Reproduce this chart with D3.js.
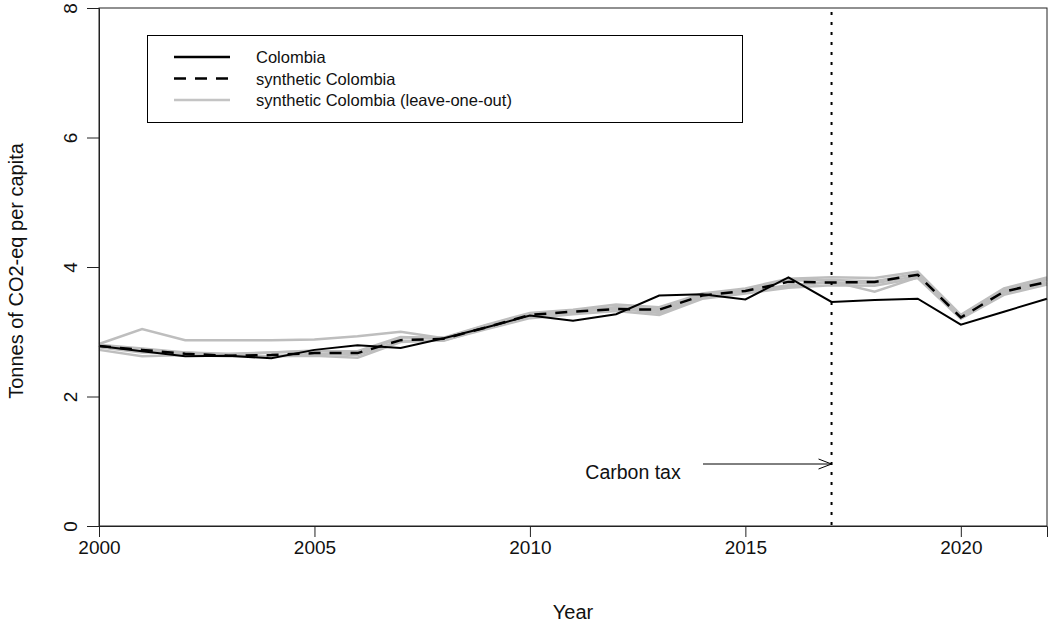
<!DOCTYPE html>
<html>
<head>
<meta charset="utf-8">
<script src="https://cdn.jsdelivr.net/npm/d3@7"></script>
<style>
  body { margin: 0; background: #fff; }
  text { font-family: "Liberation Sans", Arial, sans-serif; fill: #111; }
</style>
</head>
<body>
<svg id="chart" width="1049" height="626"></svg>
<script>
const years = d3.range(2000, 2023);

const colombia = [2.78, 2.70, 2.62, 2.63, 2.59, 2.72, 2.79, 2.75, 2.90, 3.07, 3.25, 3.17, 3.27, 3.56, 3.58, 3.50, 3.84, 3.46, 3.49, 3.51, 3.11, 3.31, 3.51];
const synthetic = [2.78, 2.72, 2.66, 2.63, 2.64, 2.67, 2.67, 2.87, 2.89, 3.07, 3.26, 3.31, 3.35, 3.34, 3.56, 3.63, 3.77, 3.76, 3.77, 3.88, 3.22, 3.62, 3.77];

// leave-one-out donors
const loo1 = [2.81, 3.04, 2.87, 2.87, 2.87, 2.88, 2.93, 3.00, 2.90, 3.10, 3.26, 3.30, 3.38, 3.35, 3.55, 3.64, 3.70, 3.78, 3.62, 3.84, 3.22, 3.62, 3.80];
const loo2 = [2.78, 2.70, 2.67, 2.65, 2.68, 2.71, 2.66, 2.91, 2.91, 3.11, 3.29, 3.34, 3.42, 3.38, 3.59, 3.67, 3.82, 3.84, 3.83, 3.93, 3.26, 3.67, 3.84];
const loo3 = [2.72, 2.62, 2.64, 2.62, 2.62, 2.63, 2.60, 2.84, 2.87, 3.04, 3.21, 3.27, 3.32, 3.26, 3.51, 3.59, 3.68, 3.72, 3.71, 3.83, 3.20, 3.57, 3.73];
const loo4 = [2.76, 2.68, 2.68, 2.66, 2.68, 2.70, 2.70, 2.92, 2.90, 3.08, 3.27, 3.33, 3.38, 3.32, 3.57, 3.65, 3.79, 3.80, 3.78, 3.90, 3.24, 3.64, 3.81];
const loo5 = [2.80, 2.74, 2.68, 2.64, 2.62, 2.66, 2.64, 2.86, 2.86, 3.06, 3.24, 3.30, 3.36, 3.29, 3.54, 3.62, 3.72, 3.76, 3.75, 3.86, 3.21, 3.60, 3.76];
const leaveOneOut = [loo1, loo2, loo3, loo4, loo5];

const xTicks = [2000, 2005, 2010, 2015, 2020];
const yTicks = [0, 2, 4, 6, 8];
const treatYear = 2017;

const legendLabels = ["Colombia", "synthetic Colombia", "synthetic Colombia (leave-one-out)"];

const svg = d3.select("#chart");
const margin = { left: 99, right: 2, top: 8, bottom: 100 };
const width = +svg.attr("width"), height = +svg.attr("height");

const x = d3.scaleLinear().domain([2000, 2022]).range([margin.left, width - margin.right]);
const y = d3.scaleLinear().domain([0, 8]).range([height - margin.bottom, margin.top]);

const line = d3.line().x((d, i) => x(years[i])).y(d => y(d));

// grey leave-one-out lines
svg.append("g")
  .selectAll("path")
  .data(leaveOneOut)
  .join("path")
  .attr("d", line)
  .attr("fill", "none")
  .attr("stroke", "#bebebe")
  .attr("stroke-width", 2.5);

svg.append("path")
  .attr("d", line(colombia))
  .attr("fill", "none")
  .attr("stroke", "#000")
  .attr("stroke-width", 2);

svg.append("path")
  .attr("d", line(synthetic))
  .attr("fill", "none")
  .attr("stroke", "#000")
  .attr("stroke-width", 2.5)
  .attr("stroke-dasharray", "12,9");

// treatment line
svg.append("line")
  .attr("x1", x(treatYear)).attr("x2", x(treatYear))
  .attr("y1", y(8)).attr("y2", y(0))
  .attr("stroke", "#000")
  .attr("stroke-width", 2)
  .attr("stroke-dasharray", "3,7")
  .attr("stroke-dashoffset", -4);

// box
svg.append("rect")
  .attr("x", x(2000)).attr("y", y(8))
  .attr("width", x(2022) - x(2000)).attr("height", y(0) - y(8))
  .attr("fill", "none")
  .attr("stroke", "#222")
  .attr("stroke-width", 1);

// axes
const xAxis = svg.append("g")
  .attr("transform", `translate(0,${y(0)})`)
  .call(d3.axisBottom(x).tickValues(xTicks).tickFormat(d3.format("d")).tickSize(11).tickPadding(4));
xAxis.select(".domain").attr("stroke", "#222");
xAxis.selectAll("line").attr("stroke", "#222");
xAxis.selectAll("text").style("font-size", "19px").attr("fill", "#111");

const yAxis = svg.append("g")
  .attr("transform", `translate(${x(2000)},0)`)
  .call(d3.axisLeft(y).tickValues(yTicks).tickSize(12).tickPadding(0).tickFormat(d3.format("d")));
yAxis.select(".domain").attr("stroke", "#222");
yAxis.selectAll("line").attr("stroke", "#222");
yAxis.selectAll("text")
  .style("font-size", "19px")
  .attr("fill", "#111")
  .attr("x", null)
  .attr("text-anchor", "middle")
  .attr("transform", "translate(-29,0) rotate(-90)")
  .attr("dy", "0.35em");

// axis titles
svg.append("text")
  .attr("x", (x(2000) + x(2022)) / 2)
  .attr("y", 619)
  .attr("text-anchor", "middle")
  .style("font-size", "20px")
  .text("Year");

svg.append("text")
  .attr("transform", `translate(23,${(y(0) + y(8)) / 2 + 4}) rotate(-90)`)
  .attr("text-anchor", "middle")
  .style("font-size", "20px")
  .text("Tonnes of CO2-eq per capita");

// carbon tax annotation
const arrowY = 464;
svg.append("text")
  .attr("x", 633)
  .attr("y", 479)
  .attr("text-anchor", "middle")
  .style("font-size", "19.5px")
  .text("Carbon tax");

svg.append("line")
  .attr("x1", 703).attr("x2", x(treatYear))
  .attr("y1", arrowY).attr("y2", arrowY)
  .attr("stroke", "#000").attr("stroke-width", 1);
svg.append("path")
  .attr("d", `M${x(treatYear) - 13},${arrowY - 5}L${x(treatYear)},${arrowY}L${x(treatYear) - 13},${arrowY + 5}`)
  .attr("fill", "none").attr("stroke", "#000").attr("stroke-width", 1);

// legend
const legend = svg.append("g");
legend.append("rect")
  .attr("x", 147.5).attr("y", 35.5)
  .attr("width", 595).attr("height", 87)
  .attr("fill", "#fff")
  .attr("stroke", "#000").attr("stroke-width", 1);

const legendStyles = [
  { stroke: "#000", width: 2.5, dash: null },
  { stroke: "#000", width: 2.5, dash: "12,9" },
  { stroke: "#c4c4c4", width: 2.5, dash: null }
];
legendLabels.forEach(function (label, i) {
  const ly = 57 + i * 21.5;
  legend.append("line")
    .attr("x1", 174).attr("x2", 230)
    .attr("y1", ly).attr("y2", ly)
    .attr("stroke", legendStyles[i].stroke)
    .attr("stroke-width", legendStyles[i].width)
    .attr("stroke-dasharray", legendStyles[i].dash);
  legend.append("text")
    .attr("x", 256).attr("y", ly + 6)
    .style("font-size", "16.5px")
    .text(label);
});
</script>
</body>
</html>
